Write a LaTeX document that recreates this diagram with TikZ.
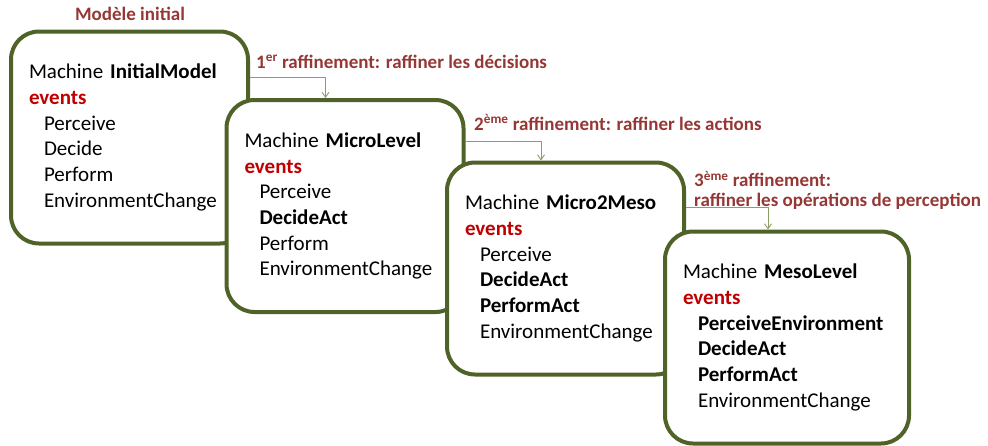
\documentclass[tikz,border=0pt]{standalone}
\usepackage{fontspec}
\setmainfont{Carlito}
\usetikzlibrary{arrows.meta}

\definecolor{boxgreen}{HTML}{4F6228}
\definecolor{linkgreen}{HTML}{8A9F63}
\definecolor{labelred}{HTML}{953735}
\definecolor{eventred}{HTML}{C00000}

\newcommand{\evts}{\textcolor{eventred}{\textbf{events}}}
\newcommand{\evline}[1]{\hspace*{15pt}#1}

\tikzset{
  machine/.style={draw=boxgreen, line width=4pt, rounded corners=28pt, fill=white,
    minimum width=237pt, minimum height=212pt, text width=201pt, inner xsep=18pt,
    align=left, font=\fontsize{21}{25.7}\selectfont},
  refine/.style={draw=linkgreen, line width=0.9pt, -{Straight Barb[length=5pt,width=7pt]}},
  steplabel/.style={text=labelred, font=\bfseries\fontsize{19}{20}\selectfont, inner sep=0pt}
}

\begin{document}
\begin{tikzpicture}[x=1pt,y=-1pt]
    \useasboundingbox (0,0) rectangle (988,445);

    % Machines, each one refines the one before
    \node[machine] (initial) at (129.5,137.5) {Machine \textbf{InitialModel}\\ \evts\\
        \evline{Perceive}\\ \evline{Decide}\\ \evline{Perform}\\ \evline{EnvironmentChange}};
    \node[machine] (micro) at (345,206) {Machine \textbf{MicroLevel}\\ \evts\\
        \evline{Perceive}\\ \evline{\textbf{DecideAct}}\\ \evline{Perform}\\ \evline{EnvironmentChange}};
    \node[machine] (micromeso) at (565.5,268.5) {Machine \textbf{Micro2Meso}\\ \evts\\
        \evline{Perceive}\\ \evline{\textbf{DecideAct}}\\ \evline{\textbf{PerformAct}}\\ \evline{EnvironmentChange}};
    \node[machine, minimum width=244pt, text width=208pt] (meso) at (787,337.5) {Machine \textbf{MesoLevel}\\ \evts\\
        \evline{\textbf{PerceiveEnvironment}}\\ \evline{\textbf{DecideAct}}\\ \evline{\textbf{PerformAct}}\\ \evline{EnvironmentChange}};

    % Labels
    \node[steplabel, anchor=base] (initlabel) at (130,20) {Modèle initial};
    \node[steplabel, anchor=base west] (firstlabel) at (256,68) {1\textsuperscript{er} raffinement: raffiner les décisions};
    \node[steplabel, anchor=base west] (secondlabel) at (474,130) {2\textsuperscript{ème} raffinement: raffiner les actions};
    \node[steplabel, anchor=north west, align=left] (thirdlabel) at (694,171) {3\textsuperscript{ème} raffinement:\\ raffiner les opérations de perception};

    % Refinement arrows
    \draw[refine] ([yshift=-48pt]initial.north east) -| ([xshift=101pt]micro.north west);
    \draw[refine] ([yshift=-43pt]micro.north east) -| ([xshift=96pt]micromeso.north west);
    \draw[refine] ([yshift=-47pt]micromeso.north east) -| ([xshift=105pt]meso.north west);
\end{tikzpicture}
\end{document}
